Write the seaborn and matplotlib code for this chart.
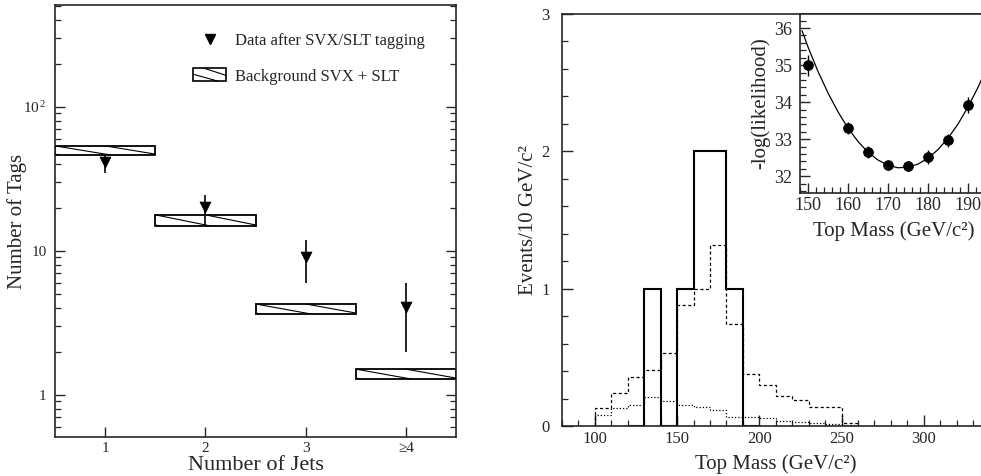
import numpy as np
import matplotlib
matplotlib.use("Agg")
import matplotlib.pyplot as plt
import seaborn as sns
import pandas as pd
from matplotlib.lines import Line2D
from matplotlib.patches import Rectangle
from matplotlib.legend_handler import HandlerBase
from matplotlib.ticker import (FixedLocator, MultipleLocator, LogLocator,
                               NullFormatter, FixedFormatter)

# ---------------- data: left panel ----------------
jet_labels = ["1", "2", "3", "≥4"]
jet_pos = [1, 2, 3, 4]
bkg_low = [46.4, 14.9, 3.65, 1.29]
bkg_high = [53.6, 17.8, 4.28, 1.51]
data_tags = [41.5, 20.2, 9.1, 4.1]
data_err_low = [34.9, 14.9, 6.0, 2.0]
data_err_high = [47.0, 24.5, 11.9, 6.0]
ytick_vals = [1, 10, 100]
ytick_labels = ["1", "10", "10$^{\\,2}$"]

# ---------------- data: right panel ----------------
mass_edges = [100, 110, 120, 130, 140, 150, 160, 170, 180, 190,
              200, 210, 220, 230, 240, 250, 260]
dashed_vals = [0.13, 0.24, 0.36, 0.41, 0.53, 0.88, 1.00, 1.32, 0.74, 0.38,
               0.30, 0.22, 0.19, 0.14, 0.14, 0.02]
dotted_vals = [0.08, 0.13, 0.155, 0.21, 0.18, 0.155, 0.14, 0.12, 0.065, 0.065,
               0.06, 0.035, 0.03, 0.02, 0.017, 0.01]
obs_edges = [120, 130, 140, 150, 160, 170, 180, 190, 200]
obs_counts = [0, 1, 0, 1, 2, 2, 1, 0]
mass_ticks = [100, 150, 200, 250, 300]

# inset: likelihood
lik_mass = [150, 160, 165, 170, 175, 180, 185, 190]
lik_vals = [35.0, 33.30, 32.66, 32.30, 32.27, 32.52, 32.97, 33.92]
lik_err = [0.28, 0.16, 0.16, 0.07, 0.13, 0.18, 0.18, 0.22]
fit_mass = [148.5, 150, 152.5, 155, 157.5, 160, 162.5, 165, 167.5, 170, 172.5,
            175, 177.5, 180, 182.5, 185, 187.5, 190, 192.5, 193.5]
fit_vals = [35.93, 35.49, 34.83, 34.25, 33.74, 33.30, 32.94, 32.65, 32.44,
            32.30, 32.23, 32.25, 32.33, 32.49, 32.72, 33.03, 33.41, 33.87,
            34.40, 34.64]

# ---------------- style ----------------
sns.set_theme(style="ticks")
plt.rcParams["font.family"] = ["Liberation Serif", "DejaVu Serif"]
plt.rcParams["mathtext.fontset"] = "custom"
plt.rcParams["mathtext.rm"] = "Liberation Serif"
plt.rcParams["mathtext.it"] = "Liberation Serif:italic"
plt.rcParams["axes.linewidth"] = 1.2
plt.rcParams["xtick.direction"] = "in"
plt.rcParams["ytick.direction"] = "in"

W, H = 981, 476
fig = plt.figure(figsize=(W / 100, H / 100), dpi=100)


def rect(x0, y0, x1, y1):
    return [x0 / W, 1 - y1 / H, (x1 - x0) / W, (y1 - y0) / H]


# ======================= left panel =======================
ax1 = fig.add_axes(rect(55, 5, 456, 437))
ax1.set_yscale("log")
ax1.set_xlim(0.5, 4.5)
ax1.set_ylim(0.51, 510)

heights = [h - l for h, l in zip(bkg_high, bkg_low)]
bars = ax1.bar(jet_pos, heights, bottom=bkg_low, width=1.0, color="white",
               edgecolor="black", linewidth=1.3, zorder=2)
# sparse slanted hatch lines inside each background box
for b, x, lo, hi in zip(bars, jet_pos, bkg_low, bkg_high):
    x0 = x - 0.5
    for f in (-0.5, 0.0, 0.5):
        ln = Line2D([x0 + f, x0 + f + 0.55], [hi, lo], color="black",
                    lw=0.8, zorder=3)
        ax1.add_line(ln)
        ln.set_clip_path(b)

df_left = pd.DataFrame({"jets": jet_pos, "tags": data_tags,
                        "lo": data_err_low, "hi": data_err_high})
ax1.vlines(df_left["jets"], df_left["lo"], df_left["hi"], color="black",
           lw=1.2, zorder=4)
sns.scatterplot(data=df_left, x="jets", y="tags", marker="v", s=60,
                color="black", edgecolor="black", ax=ax1, zorder=5)

ax1.xaxis.set_major_locator(FixedLocator(jet_pos))
ax1.xaxis.set_major_formatter(FixedFormatter(jet_labels))
ax1.yaxis.set_major_locator(FixedLocator(ytick_vals))
ax1.yaxis.set_major_formatter(FixedFormatter(ytick_labels))
ax1.yaxis.set_minor_locator(LogLocator(base=10, subs=np.arange(2, 10)))
ax1.yaxis.set_minor_formatter(NullFormatter())
ax1.tick_params(axis="both", which="major", length=7, width=1.0,
                labelsize=11, right=True, top=False)
ax1.tick_params(axis="y", which="major", pad=6)
ax1.tick_params(axis="y", which="minor", length=4, width=0.9, right=True)
ax1.set_xlabel("Number of Jets", fontsize=16, labelpad=1)
ax1.set_ylabel("Number of Tags", fontsize=15)
ax1.yaxis.set_label_coords(-0.07, 0.5)


class HatchBoxHandler(HandlerBase):
    def create_artists(self, legend, orig_handle, xdescent, ydescent,
                       width, height, fontsize, trans):
        x0, y0 = -xdescent, -ydescent
        r = Rectangle((x0, y0), width, height, facecolor="white",
                      edgecolor="black", lw=1.2, transform=trans)
        l1 = Line2D([x0, x0 + 0.75 * width], [y0 + 0.55 * height, y0],
                    color="black", lw=0.8, transform=trans)
        l2 = Line2D([x0 + 0.35 * width, x0 + width],
                    [y0 + height, y0 + 0.45 * height],
                    color="black", lw=0.8, transform=trans)
        return [r, l1, l2]


h_data = Line2D([], [], marker="v", color="black", linestyle="none",
                markersize=7)
h_bkg = Rectangle((0, 0), 1, 1)
ax1.legend([h_data, h_bkg],
           ["Data after SVX/SLT tagging", "Background SVX + SLT"],
           handler_map={Rectangle: HatchBoxHandler()},
           loc="upper left", bbox_to_anchor=(0.344, 0.935), frameon=False,
           fontsize=12, handlelength=2.0, handleheight=0.8,
           handletextpad=0.55, labelspacing=1.15, borderpad=0,
           borderaxespad=0)

# ======================= right panel =======================
ax2 = fig.add_axes(rect(562, 14, 981, 426))
ax2.set_xlim(80, 334.8)
ax2.set_ylim(0, 3)
ax2.stairs(dashed_vals, mass_edges, color="black", lw=0.9,
           linestyle=(0, (2.5, 2)), baseline=0)
ax2.stairs(dotted_vals, mass_edges, color="black", lw=0.9,
           linestyle=(0, (1, 1.6)), baseline=0)
ax2.stairs(obs_counts, obs_edges, color="black", lw=1.5, baseline=0)
ax2.spines["right"].set_visible(False)
ax2.xaxis.set_major_locator(FixedLocator(mass_ticks + [350]))
ax2.xaxis.set_minor_locator(MultipleLocator(10))
ax2.yaxis.set_major_locator(MultipleLocator(1))
ax2.yaxis.set_minor_locator(MultipleLocator(0.2))
ax2.tick_params(axis="both", which="major", length=8, width=1.0,
                labelsize=12, top=False, right=False)
ax2.tick_params(axis="y", which="major", pad=9)
ax2.tick_params(axis="both", which="minor", length=4, width=0.9,
                top=False, right=False)
ax2.set_xlabel("Top Mass (GeV/c²)", fontsize=15)
ax2.xaxis.set_label_coords(0.51, -0.068)
ax2.set_ylabel("Events/10 GeV/c²", fontsize=15)
ax2.yaxis.set_label_coords(-0.058, 0.5)

# ---------------- inset ----------------
ax3 = fig.add_axes(rect(800, 14, 981, 193))
ax3.set_facecolor("white")
ax3.set_xlim(148, 193.25)
ax3.set_ylim(31.55, 36.38)
df_lik = pd.DataFrame({"m": lik_mass, "nll": lik_vals, "err": lik_err})
df_fit = pd.DataFrame({"m": fit_mass, "nll": fit_vals})
sns.lineplot(data=df_fit, x="m", y="nll", color="black", lw=0.9, ax=ax3,
             sort=True)
ax3.errorbar(df_lik["m"], df_lik["nll"], yerr=df_lik["err"], fmt="none",
             ecolor="black", elinewidth=1.0, capsize=0)
sns.scatterplot(data=df_lik, x="m", y="nll", s=50, color="black",
                edgecolor="black", ax=ax3, zorder=5)
ax3.spines["right"].set_visible(False)
ax3.xaxis.set_major_locator(MultipleLocator(10))
ax3.xaxis.set_minor_locator(MultipleLocator(2))
ax3.yaxis.set_major_locator(MultipleLocator(1))
ax3.yaxis.set_minor_locator(MultipleLocator(0.2))
ax3.tick_params(axis="both", which="major", length=7, width=1.0,
                labelsize=13, top=False, right=False, pad=3)
ax3.tick_params(axis="y", which="major", pad=6)
ax3.tick_params(axis="both", which="minor", length=4, width=0.9,
                top=False, right=False)
ax3.set_xlabel("Top Mass (GeV/c²)", fontsize=15)
ax3.xaxis.set_label_coords(0.52, -0.16)
ax3.set_ylabel("-log(likelihood)", fontsize=15)
ax3.yaxis.set_label_coords(-0.165, 0.5)

fig.savefig("out.png", dpi=100)
